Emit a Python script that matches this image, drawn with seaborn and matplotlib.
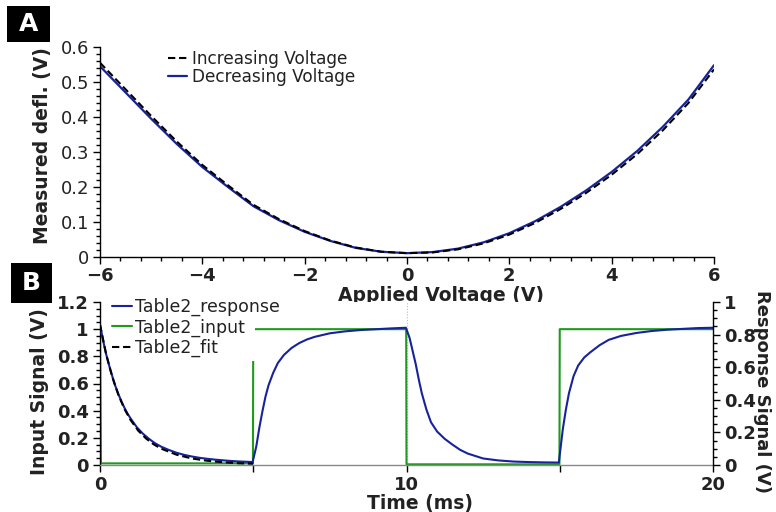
import numpy as np
import pandas as pd
import matplotlib
matplotlib.use("Agg")
import matplotlib.pyplot as plt
from matplotlib.patches import Rectangle
from matplotlib.ticker import MultipleLocator
import seaborn as sns

# ---------------- data: panel A ----------------
voltage = [-6.0, -5.5, -5.0, -4.5, -4.0, -3.5, -3.0, -2.5, -2.0, -1.5, -1.0, -0.5, 0.0,
           0.5, 1.0, 1.5, 2.0, 2.5, 3.0, 3.5, 4.0, 4.5, 5.0, 5.5, 6.0]
defl_decreasing = [0.545, 0.470, 0.395, 0.323, 0.257, 0.200, 0.145, 0.105, 0.072, 0.046, 0.026, 0.015, 0.011,
                   0.014, 0.024, 0.042, 0.068, 0.102, 0.143, 0.190, 0.243, 0.303, 0.372, 0.450, 0.548]
defl_increasing = [0.555, 0.479, 0.403, 0.330, 0.263, 0.205, 0.149, 0.108, 0.074, 0.047, 0.027, 0.015, 0.011,
                   0.013, 0.022, 0.039, 0.064, 0.097, 0.137, 0.183, 0.235, 0.294, 0.362, 0.440, 0.536]

# ---------------- data: panel B ----------------
resp_time = [0.00, 0.10, 0.20, 0.30, 0.40, 0.50, 0.60, 0.70, 0.80, 0.90, 1.00, 1.20, 1.40, 1.60, 1.80,
             2.00, 2.25, 2.50, 2.75, 3.00, 3.25, 3.50, 3.75, 4.00, 4.25, 4.50, 4.75, 4.98,
             5.10, 5.20, 5.30, 5.40, 5.50, 5.65, 5.80, 6.00, 6.25, 6.50, 6.75, 7.00, 7.50, 8.00,
             8.50, 9.00, 9.50, 9.98,
             10.10, 10.20, 10.30, 10.40, 10.50, 10.65, 10.80, 11.00, 11.25, 11.50, 11.75, 12.00,
             12.50, 13.00, 13.50, 14.00, 14.50, 14.97,
             15.10, 15.20, 15.30, 15.45, 15.60, 15.80, 16.00, 16.30, 16.60, 17.00, 17.50, 18.00,
             18.50, 19.00, 19.50, 20.00]
resp_value = [0.860, 0.765, 0.680, 0.610, 0.545, 0.485, 0.435, 0.390, 0.350, 0.315, 0.285, 0.232, 0.192,
              0.160, 0.133, 0.112, 0.092, 0.075, 0.062, 0.052, 0.044, 0.038, 0.033, 0.029, 0.025, 0.022,
              0.020, 0.018,
              0.115, 0.230, 0.330, 0.420, 0.490, 0.565, 0.625, 0.675, 0.718, 0.748, 0.770, 0.786, 0.808,
              0.820, 0.828, 0.833, 0.838, 0.842,
              0.780, 0.700, 0.620, 0.525, 0.440, 0.340, 0.262, 0.205, 0.160, 0.125, 0.093, 0.070,
              0.040, 0.028, 0.021, 0.018, 0.016, 0.015,
              0.220, 0.340, 0.440, 0.545, 0.610, 0.660, 0.692, 0.735, 0.768, 0.792, 0.810, 0.822,
              0.830, 0.835, 0.840, 0.842]

input_time = [0.0, 0.03, 4.99, 5.0, 9.99, 10.0, 14.99, 15.0, 20.0]
input_value = [1.0, 0.012, 0.012, 1.0, 1.0, 0.005, 0.005, 1.0, 1.0]

fit_time = [0.0, 0.2, 0.4, 0.6, 0.8, 1.0, 1.25, 1.5, 1.75, 2.0, 2.5, 3.0, 3.5, 4.0, 4.5, 5.0]
fit_value = [0.862, 0.680, 0.540, 0.430, 0.343, 0.275, 0.210, 0.163, 0.127, 0.100, 0.063, 0.040,
             0.026, 0.017, 0.011, 0.008]

BLUE = "#16239a"
GREEN = "#1f9a1f"

sns.set_theme(style="ticks")
plt.rcParams['font.family'] = ['DejaVu Sans']
plt.rcParams.update({
    'axes.edgecolor': 'black', 'axes.linewidth': 1.0,
    'xtick.color': 'black', 'ytick.color': 'black',
    'text.color': '#222222', 'axes.labelcolor': '#222222',
    'xtick.labelcolor': '#222222', 'ytick.labelcolor': '#222222',
})

W, H = 776, 512
fig = plt.figure(figsize=(W / 100, H / 100), dpi=100)
axA = fig.add_axes([100 / W, 1 - 257 / H, 614 / W, 210 / H])
axB = fig.add_axes([100 / W, 1 - 465 / H, 613 / W, 163 / H])

# ---------------- panel A ----------------
dfA = pd.DataFrame({"V": voltage, "inc": defl_increasing, "dec": defl_decreasing})
sns.lineplot(data=dfA, x="V", y="dec", ax=axA, color=BLUE, lw=1.6, label="Decreasing Voltage")
sns.lineplot(data=dfA, x="V", y="inc", ax=axA, color="black", lw=1.5, label="Increasing Voltage")
axA.lines[-1].set_dashes((3.5, 1.8))
axA.set_xlim(-6, 6)
axA.set_ylim(0, 0.6)
axA.xaxis.set_minor_locator(MultipleLocator(0.4))
axA.yaxis.set_minor_locator(MultipleLocator(0.02))
axA.set_yticks([0, 0.1, 0.2, 0.3, 0.4, 0.5, 0.6])
axA.set_yticklabels(["0", "0.1", "0.2", "0.3", "0.4", "0.5", "0.6"])
axA.set_xticks([-6, -4, -2, 0, 2, 4, 6])
axA.set_xticklabels(["\u22126", "\u22124", "\u22122", "0", "2", "4", "6"])
for s in ("top", "right"):
    axA.spines[s].set_visible(False)
axA.tick_params(which="major", direction="out", length=5, width=1, labelsize=13, pad=2.5)
axA.tick_params(which="minor", direction="out", length=3, width=1)
axA.tick_params(axis="y", pad=3)
for lbl in axA.get_xticklabels():
    lbl.set_fontweight("bold")
axA.set_xlabel("Applied Voltage (V)", fontsize=13.5, fontweight="bold", labelpad=0.5)
axA.xaxis.label.set_x(0.555)
axA.set_ylabel("Measured defl. (V)", fontsize=13.5, fontweight="bold", labelpad=6)
axA.yaxis.label.set_y(0.53)
hA, lA = axA.get_legend_handles_labels()
axA.legend([hA[1], hA[0]], [lA[1], lA[0]], loc="upper left", bbox_to_anchor=(0.095, 1.035),
           frameon=False, fontsize=12.2, handlelength=1.1, handletextpad=0.3, labelspacing=0.0,
           borderpad=0.1)

# ---------------- panel B ----------------
dfIn = pd.DataFrame({"t": input_time, "v": input_value})
dfResp = pd.DataFrame({"t": resp_time, "v": resp_value})
dfFit = pd.DataFrame({"t": fit_time, "v": fit_value})

axB.axvline(10, color="#bbbbbb", lw=0.8, ls=(0, (1, 1.5)), zorder=0)
sns.lineplot(data=dfIn, x="t", y="v", ax=axB, color=GREEN, lw=1.5, sort=False,
             estimator=None, label="Table2_input")
axB.set_xlim(0, 20)
axB.set_ylim(0, 1.2)

ax2 = axB.twinx()
sns.lineplot(data=dfResp, x="t", y="v", ax=ax2, color=BLUE, lw=1.5, sort=False,
             estimator=None, label="Table2_response")
sns.lineplot(data=dfFit, x="t", y="v", ax=ax2, color="black", lw=1.5, sort=False,
             estimator=None, label="Table2_fit")
ax2.lines[-1].set_dashes((3.5, 1.8))
ax2.set_ylim(0, 1.0)
ax2.set_xlim(0, 20)

axB.set_xticks([0, 5, 10, 15, 20])
axB.set_xticklabels(["0", "", "10", "", "20"])
axB.set_yticks([0, 0.2, 0.4, 0.6, 0.8, 1.0, 1.2])
axB.set_yticklabels(["0", "0.2", "0.4", "0.6", "0.8", "1", "1.2"])
axB.yaxis.set_minor_locator(MultipleLocator(0.05))
ax2.set_yticks([0, 0.2, 0.4, 0.6, 0.8, 1.0])
ax2.set_yticklabels(["0", "0.2", "0.4", "0.6", "0.8", "1"])
ax2.yaxis.set_minor_locator(MultipleLocator(0.05))

axB.spines["top"].set_visible(False)
axB.spines["right"].set_visible(False)
axB.spines["bottom"].set_color("#888888")
for s in ("top", "left", "bottom"):
    ax2.spines[s].set_visible(False)
for ax in (axB, ax2):
    ax.tick_params(which="major", direction="out", length=5, width=1, labelsize=13, pad=3)
    ax.tick_params(which="minor", direction="out", length=3, width=1)
    for lbl in ax.get_xticklabels() + ax.get_yticklabels():
        lbl.set_fontweight("bold")
axB.tick_params(axis="x", pad=3)

axB.set_xlabel("Time (ms)", fontsize=13.5, fontweight="bold", labelpad=0)
axB.xaxis.label.set_x(0.522)
axB.set_ylabel("Input Signal (V)", fontsize=13.5, fontweight="bold", labelpad=6)
axB.yaxis.label.set_y(0.45)
ax2.set_ylabel("Response Signal (V)", fontsize=13, fontweight="bold", rotation=270, labelpad=11)
ax2.yaxis.label.set_y(0.45)

if axB.get_legend() is not None:
    axB.get_legend().remove()

# white legend background box (covers the traces behind the legend, as in the reference)
bx0, bx1, by0, by1 = 109, 255, 299, 361
ax2.add_patch(Rectangle(((bx0 - 100) / 613, (465 - by1) / 163), (bx1 - bx0) / 613, (by1 - by0) / 163,
                        transform=ax2.transAxes, facecolor="white", edgecolor="none",
                        zorder=3, clip_on=False))
hR, lR = ax2.get_legend_handles_labels()
hI, lI = axB.get_legend_handles_labels()
leg = ax2.legend([hR[0], hI[0], hR[1]], [lR[0], lI[0], lR[1]], loc="upper left",
                 bbox_to_anchor=(0.016, 1.035), frameon=False, fontsize=12.5, handlelength=1.2,
                 handletextpad=0.15, labelspacing=0.12, borderpad=0.1, borderaxespad=0.0)
leg.set_zorder(5)

# ---------------- panel letters ----------------
for letter, (x0, y0, x1, y1) in (("A", (7, 6, 50, 42)), ("B", (11, 263, 52, 303))):
    fig.patches.append(Rectangle((x0 / W, 1 - y1 / H), (x1 - x0) / W, (y1 - y0) / H,
                                 transform=fig.transFigure, facecolor="black", edgecolor="none"))
    fig.text((x0 + x1) / 2 / W, 1 - (y0 + y1) / 2 / H, letter, color="white", fontsize=18,
             fontweight="bold", ha="center", va="center")

fig.savefig("out.png", dpi=100)
